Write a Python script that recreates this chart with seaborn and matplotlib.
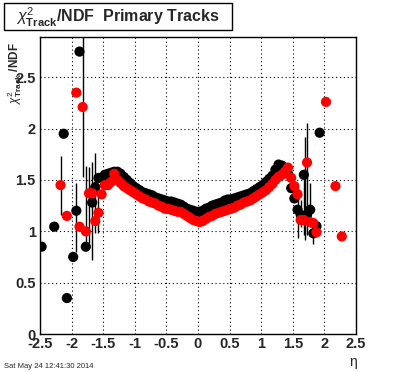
import numpy as np
import pandas as pd
import matplotlib
matplotlib.use("Agg")
import matplotlib.pyplot as plt
import matplotlib.patches as mpatches
from matplotlib.ticker import MultipleLocator
import seaborn as sns

# ---------------- data ----------------
black_eta = [-2.475, -2.275, -2.125, -2.075, -1.975, -1.925, -1.875, -1.775, -1.675, -1.625,
             -1.575, -1.525, -1.475, -1.425, -1.375, -1.325, -1.275, -1.225, -1.175, -1.125,
             -1.075, -1.025, -0.975, -0.925, -0.875, -0.825, -0.775, -0.725, -0.675, -0.625,
             -0.575, -0.525, -0.475, -0.425, -0.375, -0.325, -0.275, -0.225, -0.175, -0.125,
             -0.075, -0.025, 0.025, 0.075, 0.125, 0.175, 0.225, 0.275, 0.325, 0.375,
             0.425, 0.475, 0.525, 0.575, 0.625, 0.675, 0.725, 0.775, 0.825, 0.875,
             0.925, 0.975, 1.025, 1.075, 1.125, 1.175, 1.225, 1.275, 1.325, 1.375,
             1.425, 1.475, 1.525, 1.575, 1.625, 1.675, 1.725, 1.775, 1.825, 1.875, 1.925]
black_val = [0.85, 1.045, 1.95, 0.35, 0.75, 1.20, 2.75, 0.85, 1.28, 1.43,
             1.52, 1.52, 1.55, 1.56, 1.57, 1.58, 1.58, 1.56, 1.53, 1.50,
             1.47, 1.44, 1.42, 1.40, 1.38, 1.37, 1.36, 1.35, 1.33, 1.32,
             1.31, 1.30, 1.29, 1.29, 1.28, 1.27, 1.26, 1.24, 1.22, 1.21,
             1.20, 1.19, 1.19, 1.20, 1.22, 1.23, 1.25, 1.26, 1.27, 1.28,
             1.30, 1.31, 1.31, 1.32, 1.33, 1.34, 1.35, 1.36, 1.37, 1.39,
             1.41, 1.43, 1.45, 1.48, 1.51, 1.54, 1.60, 1.65, 1.64, 1.62,
             1.56, 1.42, 1.32, 1.21, 1.16, 1.55, 1.16, 1.21, 0.98, 1.05, 1.96]

red_eta = [-2.175, -2.075, -1.925, -1.875, -1.825, -1.775, -1.725, -1.675, -1.625, -1.575,
           -1.525, -1.475, -1.425, -1.375, -1.325, -1.275, -1.225, -1.175, -1.125, -1.075,
           -1.025, -0.975, -0.925, -0.875, -0.825, -0.775, -0.725, -0.675, -0.625, -0.575,
           -0.525, -0.475, -0.425, -0.375, -0.325, -0.275, -0.225, -0.175, -0.125, -0.075,
           -0.025, 0.025, 0.075, 0.125, 0.175, 0.225, 0.275, 0.325, 0.375, 0.425,
           0.475, 0.525, 0.575, 0.625, 0.675, 0.725, 0.775, 0.825, 0.875, 0.925,
           0.975, 1.025, 1.075, 1.125, 1.175, 1.225, 1.275, 1.325, 1.375, 1.425,
           1.475, 1.525, 1.575, 1.625, 1.675, 1.725, 1.775, 1.825, 1.875, 2.025,
           2.175, 2.275]
red_val = [1.45, 1.15, 2.35, 1.045, 2.21, 1.00, 1.37, 1.37, 1.10, 1.18,
           1.36, 1.45, 1.45, 1.48, 1.56, 1.50, 1.47, 1.44, 1.42, 1.40,
           1.38, 1.36, 1.34, 1.32, 1.31, 1.29, 1.28, 1.27, 1.25, 1.24,
           1.22, 1.22, 1.21, 1.20, 1.19, 1.19, 1.17, 1.15, 1.13, 1.11,
           1.10, 1.09, 1.10, 1.12, 1.14, 1.15, 1.17, 1.18, 1.19, 1.20,
           1.21, 1.22, 1.23, 1.25, 1.26, 1.28, 1.29, 1.30, 1.32, 1.34,
           1.36, 1.38, 1.40, 1.43, 1.46, 1.50, 1.53, 1.55, 1.58, 1.62,
           1.52, 1.44, 1.36, 1.11, 1.11, 1.67, 1.09, 1.08, 0.99, 2.26,
           1.44, 0.95]

# error bars (lower / upper ends)
err_eta = [-2.175, -1.925, -1.825, -1.775, -1.725, -1.675, -1.625, -1.575,
           1.575, 1.625, 1.675, 1.695, 1.725, 1.775, 1.825]
err_low = [1.16, 0.80, 1.53, 0.85, 0.89, 0.72, 0.98, 0.98,
           0.93, 1.045, 0.96, 0.92, 0.96, 1.045, 0.88]
err_high = [1.73, 1.47, 2.95, 1.64, 1.63, 1.67, 1.76, 1.37,
            1.42, 1.30, 1.52, 1.92, 2.05, 1.47, 1.045]

x_ticks = [-2.5, -2, -1.5, -1, -0.5, 0, 0.5, 1, 1.5, 2, 2.5]
x_ticklabels = ["-2.5", "-2", "-1.5", "-1", "-0.5", "0", "0.5", "1", "1.5", "2", "2.5"]
y_ticks = [0, 0.5, 1, 1.5, 2, 2.5]
y_ticklabels = ["0", "0.5", "1", "1.5", "2", "2.5"]

# ---------------- figure ----------------
sns.set_style("white")
plt.rcParams["font.family"] = ["Liberation Sans", "DejaVu Sans"]
plt.rcParams["mathtext.fontset"] = "custom"
plt.rcParams["mathtext.rm"] = "Liberation Sans"
plt.rcParams["mathtext.bf"] = "Liberation Sans:bold"
plt.rcParams["mathtext.it"] = "Liberation Sans:italic"

fig = plt.figure(figsize=(3.96, 3.72), dpi=100, facecolor="white")
ax = fig.add_axes([40 / 396, 38 / 372, 316 / 396, 297 / 372])
ax.set_facecolor("white")

df = pd.concat([
    pd.DataFrame({"eta": black_eta, "val": black_val, "series": "black"}),
    pd.DataFrame({"eta": red_eta, "val": red_val, "series": "red"}),
], ignore_index=True)

ax.vlines(err_eta, err_low, err_high, colors="black", linewidth=1.0, zorder=2)
sns.scatterplot(data=df, x="eta", y="val", hue="series",
                palette={"black": "#000000", "red": "#ff0000"},
                s=54, linewidth=0, legend=False, ax=ax, zorder=3)

ax.set_xlim(-2.5, 2.5)
ax.set_ylim(0, 2.892)
ax.set_xticks(x_ticks)
ax.set_xticklabels(x_ticklabels)
ax.set_yticks(y_ticks)
ax.set_yticklabels(y_ticklabels)
ax.xaxis.set_minor_locator(MultipleLocator(0.1))
ax.yaxis.set_minor_locator(MultipleLocator(0.1))
ax.tick_params(axis="both", which="major", direction="in", length=7, width=0.8,
               color="black", labelsize=10.5, top=False, right=False)
ax.tick_params(axis="both", which="minor", direction="in", length=3.5, width=0.8,
               color="black", top=False, right=False)
ax.tick_params(axis="x", which="major", pad=2)
ax.tick_params(axis="y", which="major", pad=3)
for lab in ax.get_xticklabels() + ax.get_yticklabels():
    lab.set_fontweight("bold")

ax.grid(True, which="major", color="black", linestyle=(0, (1, 2.5)), linewidth=0.8)
ax.set_axisbelow(True)
for sp in ax.spines.values():
    sp.set_color("black")
    sp.set_linewidth(1.0)
    sp.set_visible(True)
ax.set_xlabel("")
ax.set_ylabel("")

# title box
box = mpatches.Rectangle((4 / 396, 1 - 30 / 372), 228 / 396, 27 / 372,
                         transform=fig.transFigure, facecolor="white",
                         edgecolor="black", linewidth=1.0)
fig.patches.append(box)
fig.text(118 / 396, 1 - 17 / 372,
         r"$\chi^{2}_{\mathbf{Track}}$/NDF  Primary Tracks",
         ha="center", va="center", fontsize=11.5, fontweight="bold")

# axis titles
fig.text(15 / 396, 1 - 42 / 372, r"$\chi^{2}_{\mathbf{Track}}$ /NDF",
         rotation=90, ha="center", va="top", fontsize=8.5, fontweight="bold")
fig.text(353 / 396, 1 - 362 / 372, "η", ha="center", va="center", fontsize=10)
fig.text(4 / 396, 1 - 366 / 372, "Sat May 24 12:41:30 2014",
         ha="left", va="center", fontsize=5.5)

fig.savefig("out.png", dpi=100, facecolor="white")
